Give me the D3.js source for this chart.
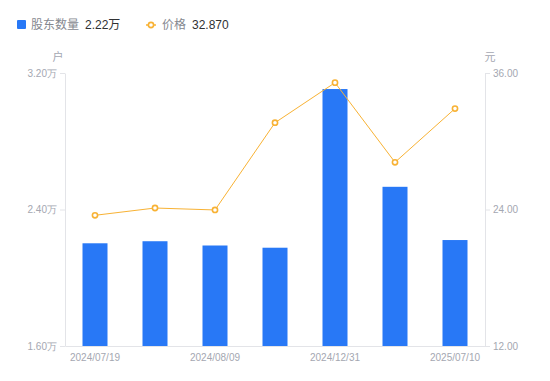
<!DOCTYPE html>
<html>
<head>
<meta charset="utf-8">
<script src="https://cdn.jsdelivr.net/npm/d3@7"></script>
<style>
  body { margin: 0; background: #fff; }
  svg { display: block; font-family: "Liberation Sans", Arial, "Noto Sans CJK SC", sans-serif; }
  .axis text { fill: #a4a7b1; font-size: 10px; }
  .axis path, .axis line { stroke: #e3e4e8; }
</style>
</head>
<body>
<svg id="chart" width="550" height="381"></svg>
<script>
// data
const dates = ['2024/07/19', '2024/07/31', '2024/08/09', '2024/09/30', '2024/12/31', '2025/03/31', '2025/07/10'];
const holders = [2.202, 2.214, 2.189, 2.176, 3.106, 2.533, 2.221]; // 万户
const prices = [23.49, 24.13, 23.96, 31.63, 35.15, 28.15, 32.87];   // 元
const leftTicks = [1.6, 2.4, 3.2];
const rightTicks = [12, 24, 36];

const svg = d3.select('#chart');
const plotLeft = 65, plotRight = 485, plotTop = 73, plotBottom = 346;
const blue = '#2878f6';
const orange = '#f8b234';

let x = d3.scaleBand()
	.domain(dates)
	.range([plotLeft, plotRight])
	.paddingInner(35 / 60)
	.paddingOuter(35 / 120);

let yL = d3.scaleLinear().domain([1.6, 3.2]).range([plotBottom, plotTop]);
let yR = d3.scaleLinear().domain([12, 36]).range([plotBottom, plotTop]);

// axes
svg.append('g')
	.attr('class', 'axis')
	.attr('transform', `translate(${plotLeft},0)`)
	.call(d3.axisLeft(yL).tickValues(leftTicks).tickSize(5).tickSizeOuter(0).tickPadding(3)
		.tickFormat(d => d3.format('.2f')(d) + '万'));

svg.append('g')
	.attr('class', 'axis')
	.attr('transform', `translate(${plotRight},0)`)
	.call(d3.axisRight(yR).tickValues(rightTicks).tickSize(5).tickSizeOuter(0).tickPadding(3)
		.tickFormat(d3.format('.2f')));

svg.append('g')
	.attr('class', 'axis')
	.attr('transform', `translate(0,${plotBottom})`)
	.call(d3.axisBottom(x).tickValues(dates.filter((d, i) => i % 2 === 0)).tickSize(0).tickSizeOuter(0).tickPadding(8));

svg.selectAll('.axis .domain').attr('stroke', '#e3e4e8');

// units
svg.append('text').attr('x', 58).attr('y', 61).attr('text-anchor', 'middle')
	.attr('fill', '#a4a7b1').style('font-size', '11px').text('户');
svg.append('text').attr('x', 490).attr('y', 61).attr('text-anchor', 'middle')
	.attr('fill', '#a4a7b1').style('font-size', '11px').text('元');

// bars
svg.append('g').selectAll('rect')
	.data(holders)
	.enter().append('rect')
	.attr('x', (d, i) => x(dates[i]))
	.attr('y', d => yL(d))
	.attr('width', x.bandwidth())
	.attr('height', d => plotBottom - yL(d))
	.attr('fill', blue);

// price line
let line = d3.line()
	.x((d, i) => x(dates[i]) + x.bandwidth() / 2)
	.y(d => yR(d));

svg.append('path')
	.datum(prices)
	.attr('d', line)
	.attr('fill', 'none')
	.attr('stroke', orange)
	.attr('stroke-width', 1);

svg.append('g').selectAll('circle')
	.data(prices)
	.enter().append('circle')
	.attr('cx', (d, i) => x(dates[i]) + x.bandwidth() / 2)
	.attr('cy', d => yR(d))
	.attr('r', 2.6)
	.attr('fill', '#fff')
	.attr('stroke', orange)
	.attr('stroke-width', 1.6);

// legend
let lg = svg.append('g').style('font-size', '12px');
lg.append('rect').attr('x', 17).attr('y', 20).attr('width', 9).attr('height', 9).attr('rx', 1).attr('fill', blue);
lg.append('text').attr('x', 31).attr('y', 29).attr('fill', '#85888f').text('股东数量');
lg.append('text').attr('x', 85).attr('y', 29).attr('fill', '#303133').text(d3.format('.2f')(holders[holders.length - 1]) + '万');

lg.append('line').attr('x1', 146).attr('x2', 156).attr('y1', 25).attr('y2', 25).attr('stroke', orange).attr('stroke-width', 1.5);
lg.append('circle').attr('cx', 151).attr('cy', 25).attr('r', 2.6).attr('fill', '#fff').attr('stroke', orange).attr('stroke-width', 1.6);
lg.append('text').attr('x', 162).attr('y', 29).attr('fill', '#85888f').text('价格');
lg.append('text').attr('x', 192).attr('y', 29).attr('fill', '#303133').text(d3.format('.3f')(prices[prices.length - 1]));
</script>
</body>
</html>
